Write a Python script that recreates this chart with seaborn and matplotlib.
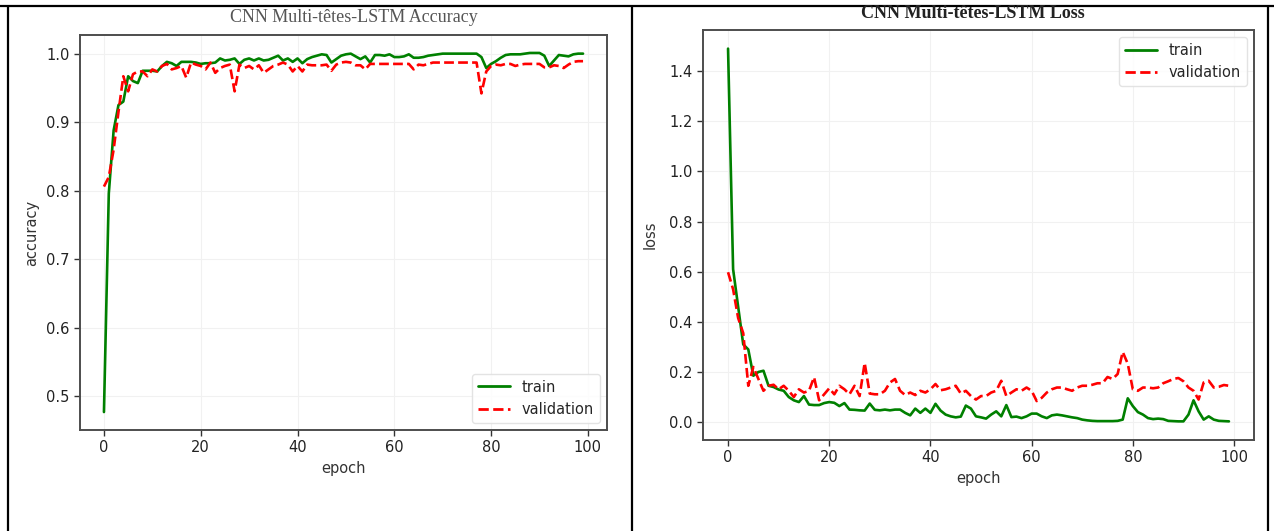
import matplotlib
matplotlib.use("Agg")
import matplotlib.pyplot as plt
from matplotlib.lines import Line2D
import numpy as np
import pandas as pd
import seaborn as sns

# Training history of the multi-head CNN-LSTM model (100 epochs)
epochs = list(range(100))

train_acc = [
    0.477, 0.796, 0.888, 0.925, 0.930, 0.967, 0.960, 0.957, 0.975, 0.975,
    0.975, 0.974, 0.982, 0.988, 0.986, 0.982, 0.988, 0.988, 0.988, 0.987,
    0.985, 0.986, 0.986, 0.987, 0.993, 0.990, 0.991, 0.993, 0.985, 0.991,
    0.993, 0.990, 0.993, 0.990, 0.991, 0.994, 0.997, 0.990, 0.993, 0.988,
    0.993, 0.986, 0.992, 0.995, 0.997, 0.999, 0.998, 0.987, 0.992, 0.997,
    0.999, 1.000, 0.996, 0.992, 0.996, 0.987, 0.998, 0.998, 0.997, 0.999,
    0.995, 0.995, 0.996, 0.999, 0.994, 0.994, 0.995, 0.997, 0.998, 0.999,
    1.000, 1.000, 1.000, 1.000, 1.000, 1.000, 1.000, 1.000, 0.995, 0.979,
    0.985, 0.989, 0.994, 0.998, 0.999, 0.999, 0.999, 1.000, 1.001, 1.001,
    1.001, 0.997, 0.982, 0.990, 0.998, 0.997, 0.996, 0.999, 1.000, 1.000,
]

val_acc = [
    0.806, 0.820, 0.860, 0.915, 0.967, 0.945, 0.970, 0.974, 0.974, 0.967,
    0.977, 0.974, 0.982, 0.985, 0.977, 0.979, 0.982, 0.965, 0.987, 0.984,
    0.982, 0.977, 0.987, 0.972, 0.979, 0.982, 0.984, 0.945, 0.984, 0.979,
    0.982, 0.977, 0.983, 0.972, 0.977, 0.982, 0.984, 0.987, 0.984, 0.974,
    0.982, 0.974, 0.984, 0.983, 0.983, 0.983, 0.984, 0.975, 0.984, 0.987,
    0.988, 0.987, 0.983, 0.983, 0.977, 0.985, 0.985, 0.985, 0.985, 0.985,
    0.985, 0.985, 0.985, 0.985, 0.977, 0.984, 0.983, 0.985, 0.987, 0.987,
    0.987, 0.987, 0.987, 0.987, 0.987, 0.987, 0.987, 0.987, 0.942, 0.974,
    0.982, 0.984, 0.983, 0.985, 0.985, 0.982, 0.984, 0.985, 0.985, 0.985,
    0.985, 0.980, 0.980, 0.983, 0.982, 0.979, 0.984, 0.988, 0.989, 0.989,
]

train_loss = [
    1.490, 0.610, 0.460, 0.310, 0.290, 0.185, 0.200, 0.205, 0.145, 0.140,
    0.130, 0.125, 0.100, 0.087, 0.080, 0.104, 0.070, 0.068, 0.068, 0.076,
    0.080, 0.077, 0.064, 0.076, 0.050, 0.049, 0.047, 0.046, 0.074, 0.049,
    0.047, 0.050, 0.047, 0.050, 0.050, 0.037, 0.027, 0.054, 0.037, 0.054,
    0.037, 0.073, 0.046, 0.030, 0.023, 0.019, 0.022, 0.066, 0.054, 0.023,
    0.019, 0.014, 0.030, 0.043, 0.023, 0.068, 0.020, 0.022, 0.016, 0.023,
    0.034, 0.034, 0.023, 0.016, 0.027, 0.030, 0.027, 0.023, 0.019, 0.016,
    0.010, 0.007, 0.005, 0.004, 0.004, 0.004, 0.004, 0.005, 0.010, 0.095,
    0.064, 0.040, 0.030, 0.016, 0.012, 0.014, 0.012, 0.005, 0.004, 0.003,
    0.003, 0.030, 0.087, 0.043, 0.010, 0.023, 0.010, 0.005, 0.004, 0.003,
]

val_loss = [
    0.598, 0.530, 0.415, 0.355, 0.145, 0.220, 0.172, 0.125, 0.145, 0.149,
    0.131, 0.145, 0.125, 0.100, 0.131, 0.118, 0.125, 0.179, 0.087, 0.111,
    0.135, 0.111, 0.145, 0.131, 0.111, 0.145, 0.104, 0.236, 0.114, 0.111,
    0.111, 0.125, 0.158, 0.172, 0.125, 0.108, 0.118, 0.108, 0.125, 0.118,
    0.131, 0.152, 0.127, 0.131, 0.138, 0.145, 0.114, 0.125, 0.104, 0.090,
    0.104, 0.104, 0.118, 0.125, 0.165, 0.104, 0.118, 0.131, 0.125, 0.138,
    0.125, 0.084, 0.097, 0.118, 0.131, 0.138, 0.138, 0.131, 0.125, 0.138,
    0.145, 0.145, 0.149, 0.155, 0.155, 0.180, 0.172, 0.192, 0.280, 0.233,
    0.131, 0.125, 0.138, 0.138, 0.135, 0.138, 0.155, 0.163, 0.172, 0.176,
    0.163, 0.138, 0.125, 0.090, 0.158, 0.165, 0.138, 0.141, 0.148, 0.145,
]

acc_df = pd.DataFrame({"epoch": epochs, "train": train_acc, "validation": val_acc})
loss_df = pd.DataFrame({"epoch": epochs, "train": train_loss, "validation": val_loss})

sns.set_theme(style="ticks")
plt.rcParams["font.family"] = ["DejaVu Sans"]
plt.rcParams.update({
    "axes.edgecolor": "#4d4d4d",
    "axes.linewidth": 1.4,
    "xtick.color": "#333333",
    "ytick.color": "#333333",
    "xtick.labelcolor": "#222222",
    "ytick.labelcolor": "#222222",
    "xtick.major.size": 4,
    "ytick.major.size": 4,
})

W, H = 1274, 531
fig = plt.figure(figsize=(W / 100, H / 100), dpi=100)
fig.patch.set_facecolor("white")


def px_axes(left, top, right, bottom):
    return fig.add_axes([left / W, 1 - bottom / H, (right - left) / W, (bottom - top) / H])


def draw_history(ax, df, loc):
    sns.lineplot(data=df, x="epoch", y="train", ax=ax, color="green",
                 linewidth=1.9, label="train")
    sns.lineplot(data=df, x="epoch", y="validation", ax=ax, color="red",
                 linewidth=1.9, linestyle="--", label="validation")
    ax.grid(True, color="#f1f1f1", linewidth=0.8)
    ax.set_axisbelow(True)
    ax.tick_params(labelsize=10.5, width=1.0)
    ax.set_xticks([0, 20, 40, 60, 80, 100])
    leg = ax.legend(loc=loc, fontsize=10.5, frameon=True, fancybox=True,
                    edgecolor="#dddddd", handlelength=2.2)
    leg.get_frame().set_linewidth(1.0)
    for h in leg.get_lines():
        h.set_linewidth(2.0)


# Accuracy panel
ax1 = px_axes(80, 35, 607, 430)
draw_history(ax1, acc_df, "lower right")
ax1.set_yticks([0.5, 0.6, 0.7, 0.8, 0.9, 1.0])
ax1.set_xlabel("epoch", fontsize=10.5, color="#333333", labelpad=4)
ax1.set_ylabel("accuracy", fontsize=10.5, color="#333333", labelpad=5)
fig.text(354 / W, 1 - 18 / H, "CNN Multi-têtes-LSTM Accuracy",
         family="Liberation Serif", fontsize=13, color="#555555",
         ha="center", va="center")

# Loss panel
ax2 = px_axes(703, 30, 1254, 440)
draw_history(ax2, loss_df, "upper right")
ax2.set_yticks([0.0, 0.2, 0.4, 0.6, 0.8, 1.0, 1.2, 1.4])
ax2.set_xlabel("epoch", fontsize=10.5, color="#333333", labelpad=4)
ax2.set_ylabel("loss", fontsize=10.5, color="#333333", labelpad=8)
fig.text(973 / W, 1 - 13 / H, "CNN Multi-têtes-LSTM Loss",
         family="Liberation Serif", fontsize=13, fontweight="bold",
         color="#222222", ha="center", va="center")

# Table cell borders around the two panels
border = dict(color="black", linewidth=1.6, solid_capstyle="butt")
fig.add_artist(Line2D([0, 1], [1 - 5.5 / H, 1 - 5.5 / H], transform=fig.transFigure, **border))
for xp in (8, 632, 1268):
    fig.add_artist(Line2D([xp / W, xp / W], [0, 1 - 5.5 / H], transform=fig.transFigure, **border))

fig.savefig("out.png", dpi=100, facecolor="white")
